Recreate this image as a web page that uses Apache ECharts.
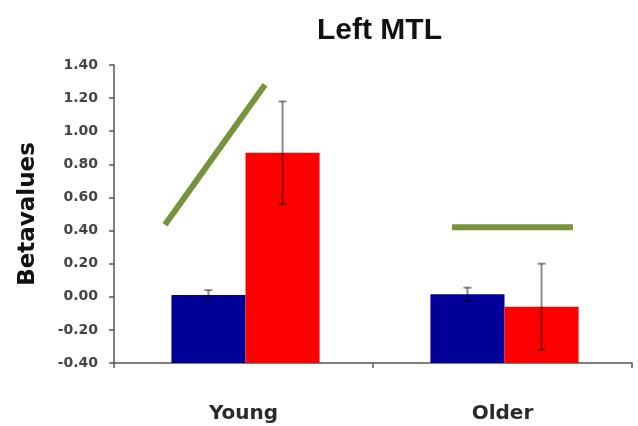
<!DOCTYPE html>
<html>
<head>
<meta charset="utf-8">
<script src="https://cdn.jsdelivr.net/npm/echarts@6/dist/echarts.min.js"></script>
<style>html,body{margin:0;padding:0;background:#fff}#c{width:638px;height:426px}</style>
</head>
<body>
<div id="c"></div>
<script>
const categories = ['Young', 'Older'];
const blueValues = [0.01, 0.015];
const blueErrors = [0.03, 0.04];
const redValues = [0.87, -0.06];
const redErrors = [0.31, 0.26];
const youngLine = [[0.197, 0.435], [0.583, 1.28]];
const olderLine = [[1.305, 0.42], [1.772, 0.42]];
const yMin = -0.4, yMax = 1.4, yStep = 0.2;

const BAR_FRAC = 0.286;

function barRenderer(side, color) {
  return function (params, api) {
    const idx = api.value(0);
    const val = api.value(1);
    const band = api.size([1, 0])[0];
    const w = band * BAR_FRAC;
    const c = api.coord([idx, val]);
    const b = api.coord([idx, yMin]);
    const x0 = side < 0 ? c[0] - w + 2 : c[0] + 2;
    return { type: 'rect', shape: { x: x0, y: c[1], width: w, height: b[1] - c[1] }, style: { fill: color } };
  };
}
function errRenderer(side) {
  return function (params, api) {
    const idx = api.value(0);
    const val = api.value(1);
    const err = api.value(2);
    const band = api.size([1, 0])[0];
    const w = band * BAR_FRAC;
    const c = api.coord([idx, val]);
    const cx = c[0] + 2 + side * w / 2;
    const top = api.coord([idx, val + err])[1];
    const bot = api.coord([idx, val - err])[1];
    const st = { stroke: 'rgba(0,0,0,0.45)', lineWidth: 2 };
    return { type: 'group', children: [
      { type: 'line', shape: { x1: cx, y1: top, x2: cx, y2: bot }, style: st },
      { type: 'line', shape: { x1: cx - 4, y1: top, x2: cx + 4, y2: top }, style: st },
      { type: 'line', shape: { x1: cx - 4, y1: bot, x2: cx + 4, y2: bot }, style: st }
    ]};
  };
}

const chart = echarts.init(document.getElementById('c'), null, { renderer: 'canvas' });
const axisCol = '#555555';
chart.setOption({
  animation: false,
  backgroundColor: '#ffffff',
  title: {
    text: 'Left MTL', left: 312, top: 11,
    textStyle: { fontFamily: 'Liberation Sans', fontWeight: 'bold', fontSize: 30, color: '#111' }
  },
  grid: { left: 114, right: 6, top: 65, bottom: 63 },
  xAxis: [
    {
      type: 'category', data: categories, boundaryGap: true,
      axisLine: { onZero: false, lineStyle: { color: axisCol, width: 1.5 } },
      axisTick: { show: true, length: 5, lineStyle: { color: axisCol, width: 1.5 } },
      axisLabel: { margin: 41, fontFamily: 'DejaVu Sans', fontWeight: 'bold', fontSize: 20, color: '#2a2a2a' },
      splitLine: { show: false }
    },
    { type: 'value', min: 0, max: 2, show: false }
  ],
  yAxis: {
    type: 'value', min: yMin, max: yMax, interval: yStep,
    name: 'Betavalues', nameLocation: 'middle', nameGap: 74,
    nameTextStyle: { fontFamily: 'DejaVu Sans', fontWeight: 'bold', fontSize: 23, color: '#111' },
    axisLine: { show: true, lineStyle: { color: axisCol, width: 1.5 } },
    axisTick: { show: true, length: 5, lineStyle: { color: axisCol, width: 1.5 } },
    axisLabel: {
      margin: 16, fontFamily: 'DejaVu Sans', fontWeight: 'bold', fontSize: 14, color: '#444444',
      formatter: v => (Math.abs(v) < 1e-9 ? 0 : v).toFixed(2)
    },
    splitLine: { show: false }
  },
  series: [
    { type: 'custom', xAxisIndex: 0, renderItem: barRenderer(-1, '#000099'), encode: { x: 0, y: 1 },
      data: categories.map((c, i) => [i, blueValues[i]]), z: 2 },
    { type: 'custom', xAxisIndex: 0, renderItem: barRenderer(1, '#ff0000'), encode: { x: 0, y: 1 },
      data: categories.map((c, i) => [i, redValues[i]]), z: 2 },
    { type: 'custom', xAxisIndex: 0, renderItem: errRenderer(-1), encode: { x: 0, y: 1 },
      data: categories.map((c, i) => [i, blueValues[i], blueErrors[i]]), z: 3 },
    { type: 'custom', xAxisIndex: 0, renderItem: errRenderer(1), encode: { x: 0, y: 1 },
      data: categories.map((c, i) => [i, redValues[i], redErrors[i]]), z: 3 },
    { type: 'line', xAxisIndex: 1, data: youngLine, symbol: 'none', lineStyle: { color: '#77933C', width: 6 }, z: 4 },
    { type: 'line', xAxisIndex: 1, data: olderLine, symbol: 'none', lineStyle: { color: '#77933C', width: 6 }, z: 4 }
  ]
});
</script>
</body>
</html>
